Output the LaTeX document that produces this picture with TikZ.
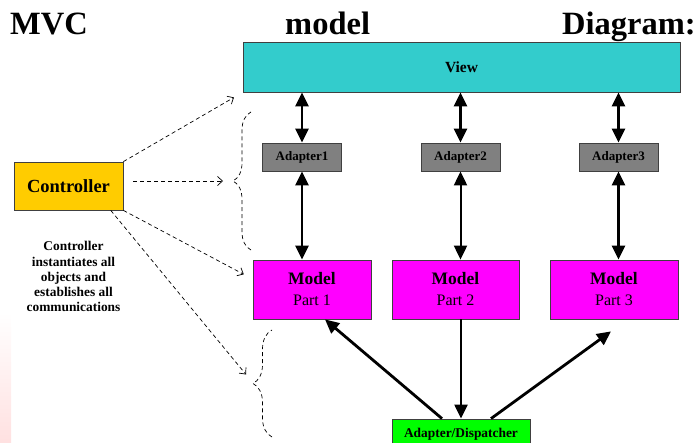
\documentclass[tikz,border=0pt]{standalone}
\usepackage{fontspec}
\setmainfont{Liberation Serif}
\usetikzlibrary{positioning,calc,arrows.meta,decorations.pathreplacing}

\definecolor{viewteal}{HTML}{33CCCC}
\definecolor{ctrlgold}{HTML}{FFCC00}
\definecolor{adaptergray}{HTML}{808080}
\definecolor{modelpink}{HTML}{FF00FF}
\definecolor{dispgreen}{HTML}{00FF00}

\begin{document}
\begin{tikzpicture}[
  x=1pt, y=-1pt,
  node distance = 31pt and 10pt,
  box node/.style={
    draw=black!75,
    line width=0.8pt,
    inner sep=0pt,
    align=center,
  },
  adapter node/.style={
    box node,
    fill=adaptergray,
    minimum width=79pt,
    minimum height=28pt,
    font=\fontsize{13}{15}\selectfont\bfseries,
  },
  model node/.style={
    box node,
    fill=modelpink,
    minimum width=#1,
    minimum height=59pt,
    font=\fontsize{16}{21}\selectfont,
  },
  title node/.style={
    inner sep=0pt,
    font=\fontsize{32.5}{33}\selectfont\bfseries,
  },
  both link/.style={
    line width=2.8pt,
    {Triangle[length=14pt,width=13pt]}-{Triangle[length=14pt,width=13pt]},
  },
  one link/.style={
    line width=2.8pt,
    -{Triangle[length=14pt,width=13pt]},
  },
  dash arrow/.style={
    line width=0.7pt,
    dash pattern=on 4pt off 3pt,
    -{Straight Barb[length=5pt,width=9pt]},
  },
  brace line/.style={
    line width=0.7pt,
    dash pattern=on 4pt off 3pt,
    decorate,
    decoration={brace,amplitude=#1},
  },
  ]
  \useasboundingbox (0,0) rectangle (698,443);

  % faint smear on the slide edge
  \shade[top color=white, bottom color=red!12, draw=none] (0,312) rectangle (11,443);

  % title
  \node[title node,anchor=base west] (t-mvc) at (10,35) {MVC};
  \node[title node,anchor=base west] (t-model) at (285,35) {model};
  \node[title node,anchor=base east] (t-diagram) at (696,35) {Diagram:};

  % boxes
  \node[box node,fill=viewteal,minimum width=437pt,minimum height=50pt,
        font=\fontsize{15.5}{17}\selectfont\bfseries] (view) at (461.5,67) {View};
  \node[adapter node] (a1) at (302,157) {Adapter1};
  \node[adapter node] (a2) at (460.5,157) {Adapter2};
  \node[adapter node] (a3) at (618.5,157) {Adapter3};
  \node[model node=118pt] (m1) at (312,289.5)
    {\textbf{\fontsize{17.5}{21}\selectfont Model}\\Part 1};
  \node[model node=127pt] (m2) at (455.5,289.5)
    {\textbf{\fontsize{17.5}{21}\selectfont Model}\\Part 2};
  \node[model node=128pt] (m3) at (614,289.5)
    {\textbf{\fontsize{17.5}{21}\selectfont Model}\\Part 3};
  \node[box node,fill=dispgreen,minimum width=138pt,minimum height=30pt,
        font=\fontsize{13.4}{15}\selectfont\bfseries] (disp) at (461,434)
    {Adapter/Dispatcher};
  \node[box node,fill=ctrlgold,minimum width=109pt,minimum height=48pt,
        font=\fontsize{18.5}{20}\selectfont\bfseries] (ctrl) at (68.5,186)
    {Controller};
  \node[below=31pt of ctrl,xshift=5pt,anchor=north,inner sep=0pt,align=center,
        font=\fontsize{13.4}{15.2}\selectfont\bfseries] (ctrl-note)
    {Controller\\instantiates all\\objects and\\establishes all\\communications};

  % braces
  \coordinate (b1-top) at (251,112);
  \coordinate (b1-bot) at (251,250);
  \coordinate (b1-tip) at (233,181);
  \coordinate (b2-top) at (272,330);
  \coordinate (b2-bot) at (272,437);
  \coordinate (b2-tip) at (253,383);
  \draw[brace line=18pt] (b1-bot) -- (b1-top);
  \draw[brace line=19pt] (b2-bot) -- (b2-top);

  % view <-> adapters <-> models
  \draw[both link] (a1.north |- view.south) -- (a1.north);
  \draw[both link] (a2.north |- view.south) -- (a2.north);
  \draw[both link] (a3.north |- view.south) -- (a3.north);
  \draw[both link] (a1.south) -- (a1.south |- m1.north);
  \draw[both link,line width=2pt] (a2.south) -- (a2.south |- m2.north);
  \draw[both link] (a3.south) -- (a3.south |- m3.north);

  % dispatcher
  \draw[one link] ([xshift=-19pt]disp.north) -- ([xshift=13pt]m1.south);
  \draw[one link,line width=2.2pt] (disp.north |- m2.south) -- (disp.north);
  \draw[one link] ([xshift=30pt]disp.north) -- ([xshift=-3pt,yshift=-12pt]m3.south);

  % controller reaches
  \draw[dash arrow,shorten >=10pt] (ctrl.north east) -- (view.south west);
  \draw[dash arrow,shorten <=10pt,shorten >=10pt] (b1-tip -| ctrl.east) -- (b1-tip);
  \draw[dash arrow,shorten >=10pt] (ctrl.south east) -- (m1.170);
  \draw[dash arrow,shorten >=11pt] (ctrl.-30) -- (b2-tip);
\end{tikzpicture}
\end{document}
